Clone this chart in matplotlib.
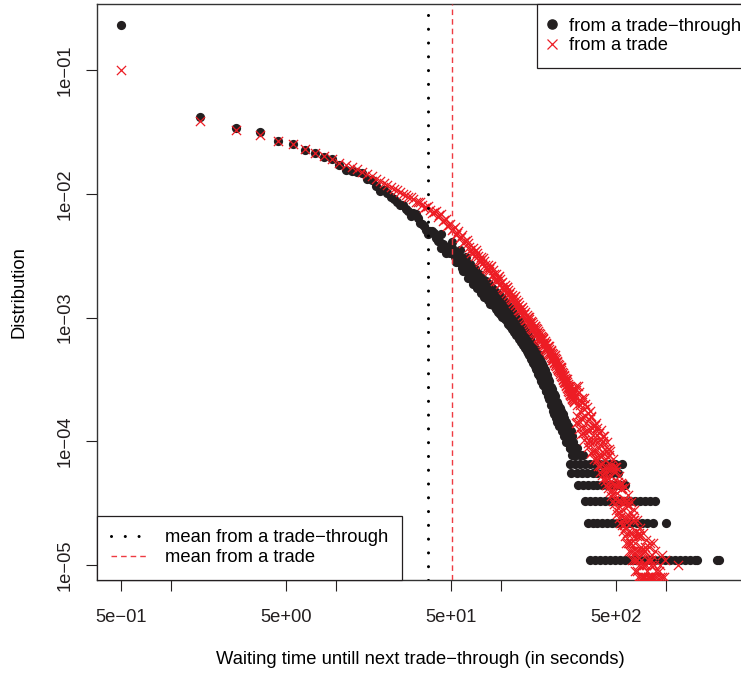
import numpy as np
import matplotlib
matplotlib.use('Agg')
import matplotlib.pyplot as plt
from matplotlib.lines import Line2D
from matplotlib.ticker import NullLocator

plt.rcParams['font.family'] = ['Liberation Sans', 'DejaVu Sans']

# ---------------- data (bin centres in seconds, counts per bin) ----------------
N_tt = 91000      # total waiting times measured from a trade-through
N_tr = 1000000    # total waiting times measured from a trade

tt_x = [0.5, 1.5, 2.5, 3.5, 4.5, 5.5, 6.5, 7.5, 8.5, 9.5, 10.5, 11.5, 12.5, 13.5, 14.5,
        15.5, 16.5, 17.5, 18.5, 19.5, 20.5, 21.5, 22.5, 23.5, 24.5, 25.5, 26.5, 27.5,
        29.5, 31.5, 33.5, 35.5, 37.5, 39.5, 42.5, 45.5, 48.5, 51.5, 54.5, 57.5, 60.5,
        64.5, 68.5, 72.5, 76.5, 80.5, 85.5, 90.5, 95.5, 100.5, 106.5, 112.5, 118.5,
        124.5, 130.5, 137.5, 144.5, 151.5, 158.5, 166.5, 174.5, 182.5, 190.5, 199.5,
        208.5, 217.5, 226.5, 236.5, 246.5, 256.5, 267.5, 278.5]
tt_counts = [21000, 3800, 3090, 2870, 2430, 2290, 2060, 1930, 1790, 1730, 1560, 1420, 1390,
             1370, 1330, 1200, 1170, 1050, 955, 975, 920, 855, 825, 780, 740, 740, 685, 660,
             635, 580, 520, 465, 455, 435, 375, 345, 340, 300, 295, 255, 230,
             196, 190, 176, 158, 160, 136, 131, 117, 110, 102, 90, 83,
             72, 70, 60, 55, 48, 43, 38, 32, 28, 25, 21,
             18, 16, 14, 13, 11, 9, 8, 7]

tt_extra_x = [28.5, 30.5, 32.5, 34.5, 36.5, 38.5, 40.5, 41.5, 43.5, 44.5, 46.5, 47.5, 49.5,
              50.5, 52.5, 53.5, 55.5, 56.5, 58.5, 59.5, 62.5, 66.5, 70.5, 74.5, 78.5, 82.5,
              87.5, 92.5, 97.5, 103.5, 109.5, 115.5, 121.5, 127.5, 134.5, 140.5, 148.5,
              155.5, 162.5, 170.5, 178.5, 186.5, 195.5, 204.5, 212.5, 222.5, 231.5, 241.5,
              251.5, 261.5, 272.5]
tt_extra_counts = [600, 620, 530, 500, 430, 455, 400, 380, 330, 360, 325, 310, 305,
                   330, 280, 300, 255, 280, 230, 250, 215, 200, 170, 175, 145, 150,
                   125, 128, 105, 105, 92, 85, 75, 72, 60, 58, 48,
                   46, 38, 36, 30, 26, 22, 20, 16, 15, 12, 11,
                   9, 8, 7]

tt_fill_x = [43.5, 46.5, 50.5, 53.5, 56.5, 59.5, 61.5, 63.5, 65.5, 67.5,
             69.5, 71.5, 73.5, 75.5, 77.5, 79.5, 81.5, 83.5, 84.5, 86.5,
             88.5, 89.5, 91.5, 93.5, 94.5, 96.5, 98.5, 99.5, 101.5, 102.5,
             104.5, 105.5, 107.5, 108.5, 110.5, 111.5, 113.5, 114.5, 116.5, 117.5,
             119.5, 120.5, 122.5, 123.5, 125.5, 126.5, 128.5, 129.5, 131.5, 133.5,
             135.5, 136.5, 138.5, 139.5, 141.5, 143.5, 145.5, 146.5, 147.5, 149.5,
             150.5, 152.5, 153.5, 154.5, 156.5, 157.5, 159.5, 160.5, 161.5, 163.5,
             164.5, 165.5, 167.5, 168.5, 169.5, 171.5, 172.5, 173.5, 175.5, 176.5,
             177.5, 179.5, 180.5, 181.5, 183.5, 184.5, 185.5, 187.5, 188.5, 189.5,
             191.5, 193.5, 194.5, 196.5, 197.5, 200.5, 202.5, 203.5, 205.5, 207.5,
             209.5, 211.5, 213.5, 215.5, 218.5, 220.5, 223.5, 225.5, 228.5, 230.5,
             233.5, 235.5, 238.5, 240.5, 243.5, 245.5, 248.5, 250.5, 253.5, 255.5,
             258.5, 260.5, 263.5, 265.5, 269.5, 271.5, 274.5, 276.5]
tt_fill_counts = [430, 300, 370, 255, 320, 215, 280, 190, 245, 170,
                  225, 158, 206, 143, 190, 134, 180, 125, 170, 118,
                  158, 114, 152, 106, 144, 101, 135, 97, 130, 92,
                  124, 89, 119, 85, 113, 81, 108, 77, 103, 73,
                  98, 70, 93, 66, 89, 64, 86, 61, 82, 58,
                  77, 55, 73, 52, 69, 49, 66, 47, 63, 45,
                  61, 42, 58, 41, 55, 39, 53, 37, 51, 35,
                  48, 34, 46, 32, 44, 31, 42, 30, 40, 28,
                  38, 27, 37, 26, 35, 25, 34, 23, 32, 23,
                  31, 21, 29, 20, 28, 18, 25, 18, 24, 16,
                  22, 15, 21, 14, 19, 13, 18, 12, 17, 12,
                  16, 11, 15, 10, 14, 10, 13, 9, 12, 12,
                  11, 10, 10, 11, 10, 9, 9, 8]

# sparse tail: bins holding only a handful of waiting times
tt_c8_x = [262.5, 275.5, 290.5]
tt_c7_x = [270.5, 285.5, 300.5, 315.5]
tt_c6_x = [262.5, 282.5, 302.5, 324.5, 347.5, 372.5, 400.5, 428.5, 459.5, 492.5, 543.5]
tt_c5_x = [266.5, 288.5, 310.5, 335.5, 360.5, 385.5, 415.5, 445.5, 475.5, 513.5]
tt_c4_x = [294.5, 315.5, 338.5, 360.5, 385.5, 410.5, 440.5, 470.5, 500.5, 530.5, 566.5]
tt_c3_x = [324.5, 347.5, 372.5, 400.5, 428.5, 459.5, 492.5, 525.5, 566.5, 607.5, 651.5,
           698.5, 749.5, 803.5, 861.5]
tt_c2_x = [338.5, 360.5, 385.5, 410.5, 440.5, 470.5, 505.5, 540.5, 580.5, 620.5, 665.5,
           715.5, 770.5, 837.5, 1004.5]
tt_c1_x = [347.5, 372.5, 400.5, 428.5, 459.5, 492.5, 525.5, 566.5, 607.5, 651.5, 698.5,
           749.5, 803.5, 861.5, 923.5, 990.5, 1062.5, 1138.5, 1221.5, 1309.5, 1404.5,
           1500.5, 1548.5, 2046.5, 2090.5]

tr_x = [0.5, 1.5, 2.5, 3.5, 4.5, 5.5, 6.5, 7.5, 8.5, 9.5, 10.5, 11.5, 12.5, 13.5, 14.5,
        15.5, 16.5, 17.5, 18.5, 19.5, 20.5, 21.5, 22.5, 23.5, 24.5, 25.5, 26.5, 27.5,
        29.5, 31.5, 33.5, 35.5, 37.5, 39.5, 42.5, 45.5, 48.5, 51.5, 54.5, 57.5, 60.5,
        64.5, 68.5, 72.5, 76.5, 80.5, 85.5, 90.5, 95.5, 100.5, 106.5, 112.5, 118.5,
        124.5, 130.5, 137.5, 144.5, 151.5, 158.5, 166.5, 174.5, 182.5, 190.5, 199.5,
        208.5, 217.5, 226.5, 236.5, 246.5, 256.5, 267.5, 278.5, 290.5, 302.5, 315.5,
        330.5, 345.5, 360.5, 375.5, 392.5, 410.5, 428.5, 447.5, 466.5, 486.5, 507.5,
        529.5, 552.5, 576.5, 600.5, 626.5, 652.5, 680.5, 708.5, 738.5, 770.5, 800.5, 835.5]
tr_counts = [100000, 38700, 32700, 29800, 26700, 25200, 23000, 21500, 20200, 19100, 17700,
             17200, 16500, 15800, 15100, 14400, 13800, 13200, 12750, 12250, 11800, 11400,
             10990, 10720, 10370, 10040, 9750, 9460, 9020, 8560, 8170, 7770, 7420, 7070,
             6680, 6110, 5610, 5170, 4800, 4460, 4120, 3740, 3400, 3120, 2890, 2680, 2450,
             2250, 2060, 1900, 1710, 1560, 1420, 1295, 1180, 1070, 980, 895, 825, 750, 685,
             625, 570, 520, 470, 425, 385, 342, 305, 273, 242, 220, 196, 177, 158, 140, 124,
             112, 100, 88, 78, 70, 61, 52, 45, 38, 33, 28, 24, 21, 18, 15, 13, 11, 10, 9, 8, 7]

tr_extra_x = [28.5, 30.5, 32.5, 34.5, 36.5, 38.5, 40.5, 41.5, 43.5, 44.5, 46.5, 47.5, 49.5,
              50.5, 52.5, 53.5, 55.5, 56.5, 58.5, 59.5, 62.5, 66.5, 70.5, 74.5, 78.5, 82.5,
              87.5, 92.5, 97.5, 103.5, 109.5, 115.5, 121.5, 127.5, 134.5, 140.5, 148.5,
              155.5, 162.5, 170.5, 178.5, 186.5, 195.5, 204.5, 212.5, 222.5, 231.5, 241.5,
              251.5, 261.5, 272.5, 284.5, 296.5, 308.5, 322.5, 337.5, 352.5, 367.5, 383.5,
              401.5, 419.5, 437.5, 456.5, 476.5, 496.5, 518.5, 540.5, 564.5, 588.5, 613.5,
              639.5, 666.5, 694.5, 723.5, 754.5, 785.5, 818.5]
tr_extra_counts = [9500, 8600, 8600, 7700, 7900, 7000, 7200, 6500, 6800, 6000, 6200, 5500, 5700,
                   5050, 5350, 4650, 5000, 4350, 4600, 4000, 4200, 3350, 3500, 2800, 3050, 2450,
                   2600, 1980, 2150, 1700, 1780, 1400, 1480, 1160, 1220, 960, 1010,
                   800, 850, 670, 700, 560, 590, 455, 500, 375, 400, 300,
                   320, 240, 255, 140, 250, 115, 200, 90, 160, 72, 128,
                   56, 100, 44, 78, 33, 58, 24, 42, 17, 30, 13,
                   23, 9, 17, 7, 13, 5, 11]

tr_fill_x = [63.5, 65.5, 67.5, 69.5, 71.5, 73.5, 75.5, 77.5, 79.5, 81.5,
             83.5, 84.5, 86.5, 88.5, 89.5, 91.5, 93.5, 94.5, 96.5, 98.5,
             99.5, 101.5, 102.5, 104.5, 105.5, 107.5, 108.5, 110.5, 111.5, 113.5,
             114.5, 116.5, 117.5, 119.5, 120.5, 122.5, 123.5, 125.5, 126.5, 128.5,
             129.5, 131.5, 133.5, 135.5, 136.5, 138.5, 139.5, 141.5, 143.5, 145.5,
             146.5, 147.5, 149.5, 150.5, 152.5, 153.5, 154.5, 156.5, 157.5, 159.5,
             160.5, 161.5, 163.5, 164.5, 165.5, 167.5, 168.5, 169.5, 171.5, 172.5,
             173.5, 175.5, 176.5, 177.5, 179.5, 180.5, 181.5, 183.5, 184.5, 185.5,
             187.5, 188.5, 189.5, 191.5, 192.5, 193.5, 194.5, 196.5, 197.5, 198.5,
             200.5, 201.5, 202.5, 203.5, 205.5, 206.5, 207.5, 209.5, 210.5, 211.5,
             213.5, 214.5, 215.5, 216.5, 218.5, 219.5, 220.5, 221.5, 223.5, 224.5,
             225.5, 227.5, 228.5, 229.5, 230.5, 232.5, 233.5, 234.5, 235.5, 237.5,
             238.5, 239.5, 240.5, 242.5, 243.5, 244.5, 245.5, 247.5, 248.5, 249.5,
             250.5, 252.5, 253.5, 254.5, 255.5, 257.5, 258.5, 259.5, 260.5, 262.5,
             263.5, 264.5, 265.5, 266.5, 268.5, 269.5, 270.5, 271.5, 273.5, 274.5,
             275.5, 276.5, 277.5, 279.5]
tr_fill_counts = [4000, 3480, 3650, 3150, 3350, 2900, 3100, 2700, 2880, 2500,
                  2680, 2370, 2540, 2200, 2420, 2090, 2260, 1990, 2140, 1860,
                  2040, 1770, 1950, 1680, 1840, 1590, 1750, 1520, 1680, 1460,
                  1600, 1390, 1520, 1320, 1460, 1270, 1390, 1210, 1330, 1150,
                  1270, 1100, 1200, 1040, 1150, 995, 1100, 960, 1050, 915,
                  1010, 890, 975, 860, 935, 825, 915, 795, 885, 770,
                  855, 750, 825, 725, 805, 700, 775, 685, 750, 660,
                  735, 640, 710, 625, 685, 605, 670, 585, 645, 570,
                  625, 550, 610, 532, 590, 520, 578, 505, 560, 495,
                  545, 480, 532, 470, 515, 455, 503, 440, 487, 430,
                  470, 416, 460, 406, 445, 393, 435, 385, 421, 372,
                  411, 360, 398, 352, 389, 339, 375, 331, 366, 320,
                  353, 312, 346, 302, 334, 295, 327, 285, 316, 280,
                  309, 270, 299, 264, 292, 255, 282, 250, 276, 241,
                  267, 236, 261, 231, 253, 225, 249, 221, 242, 215,
                  238, 211, 234, 206]

tr_tail_x = [284.5, 288.5, 293.5, 297.5, 300.5, 306.5, 310.5, 313.5, 318.5, 321.5,
             326.5, 333.5, 336.5, 341.5, 348.5, 351.5, 356.5, 364.5, 368.5, 372.5,
             379.5, 386.5, 389.5, 396.5, 400.5, 405.5, 414.5, 419.5, 423.5, 432.5,
             436.5, 441.5, 452.5, 457.5, 461.5, 470.5, 475.5, 480.5, 491.5, 496.5,
             502.5, 512.5, 518.5, 523.5, 535.5, 541.5, 546.5, 558.5, 564.5, 570.5,
             583.5, 589.5, 594.5, 606.5, 613.5, 619.5, 632.5, 639.5, 645.5, 658.5,
             666.5, 673.5, 687.5, 694.5, 701.5, 715.5, 723.5, 730.5, 746.5, 754.5,
             762.5, 778.5, 786.5, 794.5, 810.5, 818.5, 826.5, 845.5, 860.5, 875.5,
             890.5]
tr_tail_counts = [260, 160, 277, 125, 198, 154, 206, 129, 223, 102,
                  160, 123, 168, 102, 177, 81, 127, 98, 133, 82,
                  141, 63, 99, 77, 105, 65, 110, 50, 79, 61,
                  83, 51, 86, 39, 61, 46, 61, 38, 62, 28,
                  44, 33, 44, 27, 46, 21, 32, 24, 32, 20,
                  33, 15, 24, 18, 24, 15, 25, 11, 17, 13,
                  17, 11, 18, 8, 13, 10, 13, 8, 14, 6,
                  10, 8, 11, 7, 11, 5, 8, 6, 7, 5,
                  6]

tr_tail2_x = [286.5, 291.5, 299.5, 304.5, 309.5, 316.5, 320.5, 327.5, 331.5, 339.5,
              343.5, 349.5, 354.5, 358.5, 362.5, 370.5, 375.5, 381.5, 385.5, 391.5,
              394.5, 398.5, 403.5, 408.5, 412.5, 417.5, 421.5, 426.5, 430.5, 434.5,
              439.5, 444.5, 449.5, 454.5, 459.5, 463.5, 468.5, 473.5, 478.5, 483.5,
              488.5, 494.5, 499.5, 505.5, 510.5, 515.5, 521.5, 526.5, 532.5, 538.5,
              543.5, 549.5, 555.5, 560.5, 567.5, 573.5, 580.5, 586.5, 592.5, 598.5,
              605.5, 611.5, 618.5, 622.5, 629.5, 635.5, 642.5, 649.5, 656.5, 663.5,
              670.5, 677.5, 684.5, 691.5, 698.5, 705.5, 712.5, 720.5, 727.5, 735.5,
              743.5, 751.5, 760.5, 768.5, 776.5, 785.5, 793.5, 802.5, 811.5, 820.5,
              830.5, 840.5, 850.5, 862.5, 875.5, 890.5, 905.5, 925.5, 950.5, 975.5]
tr_tail2_counts = [277, 144, 217, 143, 225, 116, 182, 117, 188, 97,
                   151, 99, 158, 84, 133, 85, 135, 71, 112, 73,
                   117, 63, 123, 53, 96, 60, 110, 48, 86, 54,
                   98, 42, 75, 46, 84, 36, 64, 40, 72, 31,
                   56, 34, 62, 26, 47, 29, 52, 22, 41, 25,
                   45, 19, 34, 21, 43, 15, 31, 18, 37, 13,
                   27, 15, 32, 11, 23, 13, 28, 9, 19, 11,
                   23, 8, 17, 10, 20, 7, 14, 8, 18, 8,
                   13, 8, 16, 7, 11, 8, 14, 8, 10, 8,
                   12, 8, 10, 8, 9, 8, 9, 8, 8, 8]

tr_out_x = [700.5, 760.5, 803.5, 841.5, 850.5, 861.5, 880.5, 924.5, 945.5, 990.5, 1193.5]
tr_out_counts = [7, 6, 15, 15, 6, 13, 7, 10, 12, 11, 10]

mean_tt = 36.4
mean_tr = 50.5

xticks = [0.5, 1, 5, 10, 50, 100, 500, 1000]
xticklabels = ['5e\u221201', '', '5e+00', '', '5e+01', '', '5e+02', '']
yticks = [1e-1, 1e-2, 1e-3, 1e-4, 1e-5]
yticklabels = ['1e\u221201', '1e\u221202', '1e\u221203', '1e\u221204', '1e\u221205']

# ---------------- figure ----------------
BLACK = '#231F20'
RED = '#ED1C24'
LRED = '#EF3A42'
FS = 13.2

fig = plt.figure(figsize=(7.41, 6.75), dpi=100)
ax = fig.add_axes([97/741, 95/675, 645/741, 576/675])
ax.set_xscale('log')
ax.set_yscale('log')
ax.set_xlim(0.3576, 2901)
ax.set_ylim(7.565e-6, 0.3415)

bx = np.concatenate([tt_x, tt_extra_x, tt_fill_x])
by = np.concatenate([tt_counts, tt_extra_counts, tt_fill_counts]) / N_tt
ax.scatter(bx, by, s=44, c=BLACK, marker='o', linewidths=0, zorder=2)
for cnt, xs in [(8, tt_c8_x), (7, tt_c7_x), (6, tt_c6_x), (5, tt_c5_x),
                (4, tt_c4_x), (3, tt_c3_x), (2, tt_c2_x), (1, tt_c1_x)]:
    ax.scatter(xs, np.full(len(xs), cnt / N_tt), s=44, c=BLACK, marker='o',
               linewidths=0, zorder=2)

rx = np.concatenate([tr_x, tr_extra_x, tr_fill_x, tr_tail_x, tr_tail2_x, tr_out_x])
ry = np.concatenate([tr_counts, tr_extra_counts, tr_fill_counts, tr_tail_counts,
                     tr_tail2_counts, tr_out_counts]) / N_tr
ax.scatter(rx, ry, s=44, c=RED, marker='x', linewidths=0.9, zorder=3)

ax.axvline(mean_tt, color='black', lw=2.2, linestyle=(0, (0.01, 4.5)),
           dash_capstyle='round', zorder=4)
ax.axvline(mean_tr, color=LRED, lw=1.0, linestyle=(0, (4, 2.9)), zorder=4)

ax.set_xticks(xticks)
ax.set_xticklabels(xticklabels)
ax.set_yticks(yticks)
ax.set_yticklabels(yticklabels, rotation=90, va='center')
ax.xaxis.set_minor_locator(NullLocator())
ax.yaxis.set_minor_locator(NullLocator())
ax.tick_params(direction='out', length=8, width=0.8, labelsize=FS, colors='#231F20')
ax.tick_params(axis='x', pad=13)
ax.tick_params(axis='y', pad=9)
for sp in ax.spines.values():
    sp.set_linewidth(1.0)
    sp.set_color('#333333')

ax.set_xlabel('Waiting time untill next trade\u2212through (in seconds)', fontsize=FS)
ax.xaxis.set_label_coords(0.5008, -0.1233)
ax.set_ylabel('Distribution', fontsize=FS)
ax.yaxis.set_label_coords(-0.1085, 0.5)

h1 = [Line2D([], [], marker='o', color=BLACK, ls='none', markersize=6.6),
      Line2D([], [], marker='x', color=RED, ls='none', markersize=6.6, markeredgewidth=0.9)]
leg1 = ax.legend(handles=h1, labels=['from a trade\u2212through', 'from a trade'],
                 loc='upper left', bbox_to_anchor=(440/645, 1.0), borderaxespad=0,
                 frameon=True, fancybox=False, edgecolor='#231F20', framealpha=1,
                 fontsize=FS, handlelength=0.1, handletextpad=0.9, borderpad=0.75,
                 labelspacing=0.15)
leg1.get_frame().set_linewidth(0.9)
ax.add_artist(leg1)

h2 = [Line2D([], [], color='black', lw=2.2, ls=(0, (0.01, 4.5)), dash_capstyle='round'),
      Line2D([], [], color=LRED, lw=1.0, ls=(0, (4, 2.9)))]
leg2 = ax.legend(handles=h2, labels=['mean from a trade\u2212through', 'mean from a trade'],
                 loc='lower left', bbox_to_anchor=(0, 0), borderaxespad=0,
                 frameon=True, fancybox=False, edgecolor='#231F20', framealpha=1,
                 fontsize=FS, handlelength=1.95, handletextpad=1.0, borderpad=0.75,
                 labelspacing=0.15)
leg2.get_frame().set_linewidth(0.9)

fig.savefig('out.png', dpi=100)
